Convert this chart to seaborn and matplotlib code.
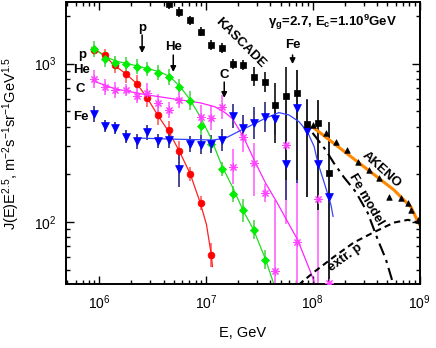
import matplotlib
matplotlib.use("Agg")
import matplotlib.pyplot as plt  # noqa: E402
import matplotlib.ticker as mticker  # noqa: E402
import numpy as np  # noqa: E402
import seaborn as sns  # noqa: E402

# Datos: energia [GeV] y J(E)E^2.5
p_E = [8.9e5, 1.12e6, 1.41e6, 1.78e6, 2.24e6, 2.82e6, 3.55e6, 4.47e6, 5.62e6, 7.08e6, 8.91e6, 1.12e7]
p_J = [1220, 1135, 980, 860, 740, 607, 470, 378, 282, 201, 131, 62]
p_err = [0.03, 0.04, 0.05, 0.06, 0.06, 0.06, 0.06, 0.06, 0.06, 0.045, 0.045, 0.075]

he_E = [8.9e5, 1.12e6, 1.41e6, 1.78e6, 2.24e6, 2.82e6, 3.55e6, 4.47e6, 5.62e6, 7.08e6,
        8.91e6, 1.12e7, 1.41e7, 1.78e7, 2.24e7, 2.82e7, 3.55e7]
he_J = [1233, 1071, 1006, 991, 957, 922, 877, 821, 710, 581, 404, 311, 215, 150, 118, 89, 57.5]
he_err = [0.05, 0.05, 0.045, 0.045, 0.045, 0.045, 0.045, 0.05, 0.05, 0.06, 0.055, 0.05,
          0.045, 0.05, 0.07, 0.06, 0.06]

c_E = [8.9e5, 1.12e6, 1.41e6, 1.78e6, 2.24e6, 2.82e6, 3.55e6, 4.47e6, 5.62e6, 8.91e6, 1.12e7,
       1.41e7, 1.78e7, 2.24e7, 2.82e7, 3.55e7, 4.47e7, 5.62e7, 7.08e7, 1.12e8, 1.41e8]
c_J = [800, 710, 682, 682, 628, 653, 562, 511, 590, 462, 456, 535, 223, 343, 235, 152, 49,
       306, 75, 140, 41]
c_lo = [0.057, 0.05, 0.05, 0.038, 0.05, 0.063, 0.057, 0.05, 0.05, 0.076, 0.076, 0.076, 0.11,
        0.095, 0.21, 0.057, 0.5, 0.5, 0.5, 0.54, 0.0]
c_hi = [0.057, 0.05, 0.05, 0.038, 0.05, 0.063, 0.057, 0.05, 0.05, 0.076, 0.076, 0.076, 0.11,
        0.095, 0.13, 0.057, 0.45, 0.25, 0.39, 0.48, 0.59]

fe_E = [8.9e5, 1.12e6, 1.41e6, 1.78e6, 2.24e6, 2.82e6, 3.55e6, 4.47e6, 5.62e6, 7.08e6, 8.91e6,
        1.12e7, 1.41e7, 1.78e7, 2.24e7, 2.82e7, 3.55e7, 4.47e7, 5.62e7, 7.08e7, 8.91e7, 1.12e8,
        1.41e8]
fe_J = [479, 404, 391, 346, 322, 367, 325, 330, 215, 311, 306, 311, 330, 467, 394, 420, 462,
        446, 232, 522, 376, 232, 143]
fe_lo = [0.05, 0.04, 0.04, 0.04, 0.045, 0.045, 0.045, 0.05, 0.11, 0.05, 0.06, 0.055, 0.07,
         0.075, 0.08, 0.1, 0.095, 0.1, 0.23, 0.47, 0.42, 0.29, 0.55]
fe_hi = [0.05, 0.04, 0.04, 0.04, 0.045, 0.045, 0.045, 0.05, 0.11, 0.05, 0.06, 0.055, 0.07,
         0.075, 0.08, 0.1, 0.095, 0.1, 0.40, 0.24, 0.20, 0.40, 0.47]

kas_E = [4.47e6, 5.62e6, 7.08e6, 8.91e6, 1.12e7, 1.41e7, 1.78e7, 2.24e7, 2.82e7, 3.55e7,
         4.47e7, 5.62e7, 7.08e7, 8.91e7, 1.12e8, 1.41e8]
kas_J = [2380, 2115, 1873, 1592, 1313, 1251, 995, 981, 828, 763, 548, 626, 656, 414, 420, 205]
kas_lo = [0.03, 0.03, 0.03, 0.03, 0.03, 0.03, 0.03, 0.03, 0.06, 0.065, 0.24, 0.53, 0.55, 0.46,
          0.55, 0.8]
kas_hi = [0.03, 0.03, 0.03, 0.03, 0.03, 0.03, 0.03, 0.03, 0.06, 0.065, 0.14, 0.18, 0.145,
          0.15, 0.145, 0.32]

ak_E = [1.0e8, 1.32e8, 1.64e8, 2.11e8, 2.66e8, 3.37e8, 4.19e8, 5.2e8, 6.7e8, 7.75e8, 8.4e8, 9.6e8]
ak_J = [410, 363, 321, 285, 240, 213, 189, 144, 141, 131, 119, 103]

# Curvas del modelo (leidas punto a punto)
p_fit_E = [8.5e5, 1.11e6, 1.37e6, 1.78e6, 2.26e6, 2.81e6, 3.56e6, 4.43e6, 5.61e6, 7.11e6,
           8.83e6, 1.01e7, 1.12e7, 1.15e7]
p_fit_J = [1255, 1135, 981, 861, 744, 607, 468, 376, 281, 201, 132, 96, 62, 52]

he_fit_E = [8.5e5, 1.11e6, 1.41e6, 2.26e6, 3.72e6, 4.62e6, 5.73e6, 7.11e6, 8.83e6, 1.10e7,
            1.42e7, 1.77e7, 2.24e7, 2.79e7, 3.61e7, 4.29e7]
he_fit_J = [1274, 1118, 1040, 967, 886, 825, 713, 590, 461, 344, 223, 166, 117, 89, 58, 41]

c_fit_E = [8.73e5, 1.41e6, 2.81e6, 5.73e6, 8.83e6, 1.22e7, 1.52e7, 1.77e7, 2.24e7, 2.91e7,
           3.61e7, 4.58e7, 7.21e7, 9.56e7, 1.04e8]
c_fit_J = [778, 692, 634, 590, 565, 533, 488, 448, 344, 236, 176, 134, 77, 48, 41]

fe_fit_E = [2.47e6, 5.0e6, 1.17e7, 1.52e7, 2.01e7, 2.70e7, 3.61e7, 4.81e7, 5.97e7, 7.41e7,
            8.89e7, 1.03e8, 1.11e8, 1.30e8, 1.48e8, 1.55e8]
fe_fit_J = [338, 333, 329, 338, 372, 410, 452, 490, 474, 430, 372, 299, 239, 171, 128, 108]

ak_fit_E = [9.95e7, 2.37e8, 5.76e8, 8.32e8, 9.68e8, 1.03e9]
ak_fit_J = [398, 253, 159, 124, 100, 93]

femod_E = [9.95e7, 1.32e8, 1.57e8, 1.95e8, 2.52e8, 3.27e8, 4.07e8, 4.84e8, 5.64e8]
femod_J = [365, 285, 236, 192, 155, 114, 77, 58, 41]

extrp_E = [7.36e7, 1.02e8, 1.57e8, 2.42e8, 3.73e8, 5.76e8, 7.80e8, 9.68e8, 1.03e9]
extrp_J = [40, 48, 60, 74, 86, 99, 103, 99, 96]

sns.set_style("ticks")
plt.rcParams["font.family"] = ["Liberation Sans", "DejaVu Sans"]
plt.rcParams["mathtext.fontset"] = "custom"
plt.rcParams["mathtext.rm"] = "Liberation Sans"
plt.rcParams["mathtext.default"] = "regular"
for key in ["text.color", "axes.labelcolor", "xtick.color", "ytick.color", "axes.edgecolor"]:
    plt.rcParams[key] = "black"

fig = plt.figure(figsize=(4.36, 3.48), dpi=100)
ax = fig.add_axes([66 / 436, 1 - 284 / 348, 354 / 436, 282 / 348])
ax.set_xscale("log")
ax.set_yscale("log")
ax.set_xlim(4.88e5, 1.01e9)
ax.set_ylim(40.5, 2450)


def bars(E, J, lo, hi, color):
    J = np.asarray(J, float)
    lo = np.asarray(lo, float)
    hi = np.asarray(hi, float)
    yerr = [J - J * 10 ** (-lo), J * 10 ** hi - J]
    ax.errorbar(E, J, yerr=yerr, fmt="none", ecolor=color, elinewidth=1.3,
                capsize=0, zorder=1)


bars(p_E, p_J, p_err, p_err, "#ff6a6a")
bars(he_E, he_J, he_err, he_err, "#5ed85e")
bars(c_E, c_J, c_lo, c_hi, "#ff70ff")
bars(fe_E, fe_J, fe_lo, fe_hi, "#3a3a8a")
bars(kas_E, kas_J, kas_lo, kas_hi, "#222222")

# Curvas del ajuste
sns.lineplot(x=p_fit_E, y=p_fit_J, ax=ax, color="#ff2020", lw=0.9, sort=False,
             estimator=None, zorder=2)
sns.lineplot(x=he_fit_E, y=he_fit_J, ax=ax, color="#22dd22", lw=0.9, sort=False,
             estimator=None, zorder=2)
sns.lineplot(x=c_fit_E, y=c_fit_J, ax=ax, color="#ff22ff", lw=0.9, sort=False,
             estimator=None, zorder=2)
sns.lineplot(x=fe_fit_E, y=fe_fit_J, ax=ax, color="#3344ff", lw=0.9, sort=False,
             estimator=None, zorder=2)
sns.lineplot(x=ak_fit_E, y=ak_fit_J, ax=ax, color="#ff8800", lw=2.2, sort=False,
             estimator=None, zorder=2)
sns.lineplot(x=femod_E, y=femod_J, ax=ax, color="k", lw=1.5, sort=False,
             estimator=None, zorder=2, linestyle=(0, (6, 2.5, 1.5, 2.5)))
sns.lineplot(x=extrp_E, y=extrp_J, ax=ax, color="k", lw=1.5, sort=False,
             estimator=None, zorder=2, linestyle=(0, (3, 2)))

# Marcadores
sns.scatterplot(x=p_E, y=p_J, ax=ax, marker="o", s=24, color="#ff0000",
                edgecolor="#ff0000", linewidth=0.5, zorder=3)
sns.scatterplot(x=he_E, y=he_J, ax=ax, marker="D", s=17, color="#00ee00",
                edgecolor="#00ee00", linewidth=0.5, zorder=3)
sns.scatterplot(x=c_E, y=c_J, ax=ax, marker=(8, 2, 0), s=28, color="#ff44ff",
                edgecolor="#ff44ff", linewidth=0.8, zorder=3)
sns.scatterplot(x=fe_E, y=fe_J, ax=ax, marker="v", s=32, color="#0000ff",
                edgecolor="#0000ff", linewidth=0.5, zorder=3)
sns.scatterplot(x=kas_E, y=kas_J, ax=ax, marker="s", s=16, color="k",
                edgecolor="k", linewidth=0.5, zorder=3)
sns.scatterplot(x=ak_E, y=ak_J, ax=ax, marker="^", s=16, color="k",
                edgecolor="k", linewidth=0.5, zorder=3)

# Ejes
for side in ["top", "right", "bottom", "left"]:
    ax.spines[side].set_visible(True)
    ax.spines[side].set_linewidth(1.4)
    ax.spines[side].set_color("black")
ax.tick_params(which="both", direction="in", top=True, right=True, width=1.0,
               labelsize=10, pad=7, colors="black")
ax.tick_params(which="major", length=5.5)
ax.tick_params(which="minor", length=3)
ax.xaxis.set_minor_formatter(mticker.NullFormatter())
ax.yaxis.set_minor_formatter(mticker.NullFormatter())

ax.set_xlabel("E, GeV", fontsize=10.5)
ax.set_ylabel(r"J(E)E$^{2.5}$, m$^{-2}$s$^{-1}$sr$^{-1}$GeV$^{1.5}$", fontsize=10.5)
ax.xaxis.set_label_coords(0.5, -0.15)
ax.yaxis.set_label_coords(-0.125, 0.5)

bold = dict(transform=ax.transAxes, fontweight="bold", fontsize=9.5, color="black")
ax.text(0.754, 0.926, "γ$_g$=2.7, E$_c$=1.10$^9$GeV", ha="center", va="center", **bold)
ax.text(0.492, 0.855, "KASCADE", ha="center", va="center", rotation=-45, **bold)
ax.text(0.890, 0.404, "AKENO", ha="center", va="center", rotation=-42, **bold)
ax.text(0.847, 0.298, "Fe model", ha="center", va="center", rotation=-60, **bold)
ax.text(0.788, 0.092, "extr. p", ha="center", va="center", rotation=36, **bold)

ax.text(0.034, 0.801, "p", ha="left", va="baseline", **bold)
ax.text(0.020, 0.748, "He", ha="left", va="baseline", **bold)
ax.text(0.028, 0.681, "C", ha="left", va="baseline", **bold)
ax.text(0.020, 0.582, "Fe", ha="left", va="baseline", **bold)

# Flechas de las rodillas
for lab, x, ty, y0, y1 in [("p", 0.215, 0.898, 0.883, 0.819),
                           ("He", 0.303, 0.830, 0.812, 0.752),
                           ("C", 0.447, 0.730, 0.716, 0.660),
                           ("Fe", 0.640, 0.837, 0.812, 0.780)]:
    ax.text(x, ty, lab, ha="center", va="baseline", **bold)
    ax.annotate("", xy=(x, y1), xytext=(x, y0), xycoords="axes fraction",
                arrowprops=dict(arrowstyle="-|>", color="k", lw=1.1,
                                mutation_scale=8, shrinkA=0, shrinkB=0))

fig.savefig("out.png", dpi=100)
plt.close(fig)
